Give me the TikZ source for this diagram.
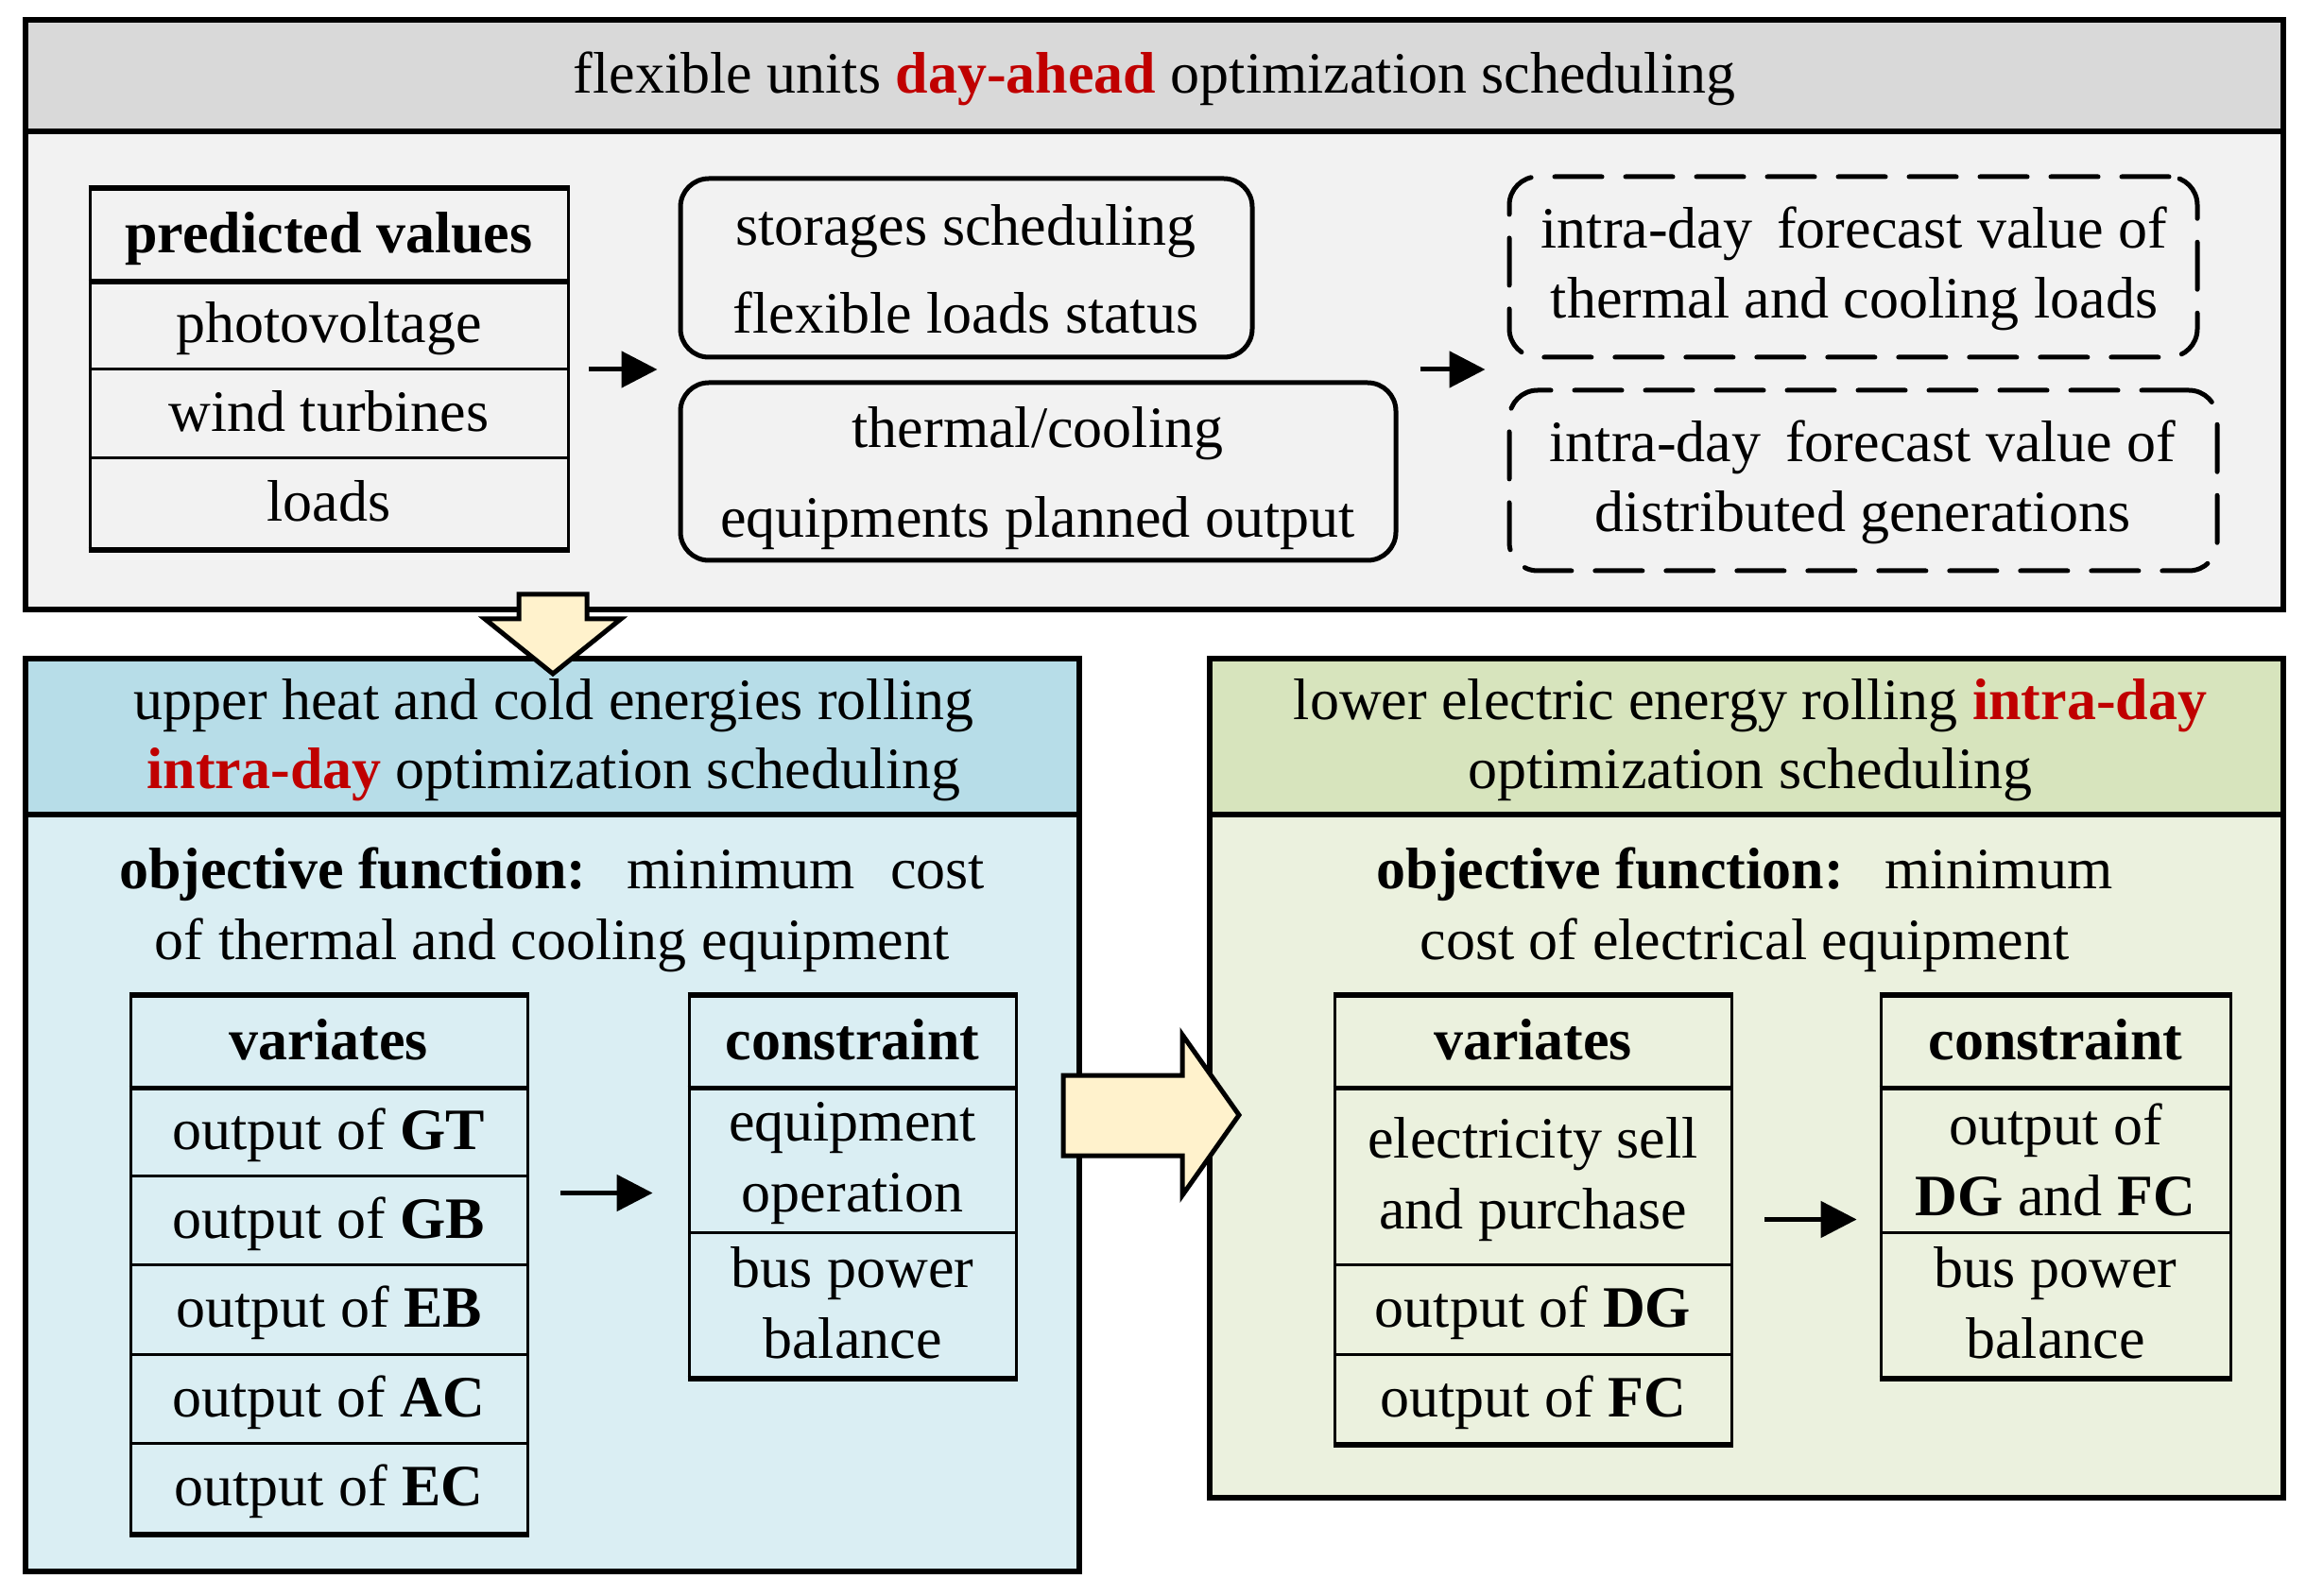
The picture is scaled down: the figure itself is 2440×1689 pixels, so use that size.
\documentclass[tikz,border=0pt]{standalone}
\usepackage{fontspec}
\setmainfont{Liberation Serif}
\usetikzlibrary{fit,arrows.meta}
\definecolor{grayhead}{HTML}{D9D9D9}
\definecolor{graybody}{HTML}{F2F2F2}
\definecolor{bluehead}{HTML}{B7DDE8}
\definecolor{bluebody}{HTML}{DAEEF3}
\definecolor{greenhead}{HTML}{D7E4BD}
\definecolor{greenbody}{HTML}{EBF1DE}
\definecolor{arrowfill}{HTML}{FFF2CC}
\definecolor{redc}{HTML}{C00000}
\newcommand\mkcell[4]{\node[cellb, fit={#2}] (#1) {}; \node[#3] (#1t) at (#1.center) {#4};}
\begin{document}
\begin{tikzpicture}[x=0.5pt,y=-0.5pt,
  panel/.style={draw, line width=3pt, inner sep=0pt},
  txt/.style={font=\fontsize{31}{37.5}\selectfont, align=center, inner sep=0pt},
  one/.style={txt, text height=25pt, text depth=6pt},
  cellb/.style={draw, line width=1.5pt, inner sep=0pt},
  rbox/.style={draw, line width=2.5pt, rounded corners=15pt, inner sep=0pt},
  dbox/.style={draw, line width=2.5pt, rounded corners=15pt, dash pattern=on 25pt off 12.5pt, line cap=round, inner sep=0pt},
  arr/.style={line width=2.5pt, -{Triangle[length=19pt,width=19pt]}},
  blk/.style={draw, line width=2.5pt, fill=arrowfill, line join=miter},
  thickl/.style={line width=3pt},
  medl/.style={line width=2.5pt}]
\useasboundingbox (0,0) rectangle (2440,1689);

% ---------- top panel ----------
\node[panel, fill=graybody, fit={(27,21)(2416,645)}] (top) {};
\node[panel, fill=grayhead, fit={(27,21)(2416,139)}] (tophead) {};
\node[one] (title) at (tophead.center)
  {flexible units \textcolor{redc}{\textbf{day-ahead}} optimization scheduling};

% predicted values table
\mkcell{pv0}{(95,201)(601,297)}{one}{\textbf{predicted values}}
\mkcell{pv1}{(95,297)(601,391)}{one}{photovoltage}
\mkcell{pv2}{(95,391)(601,485)}{one}{wind turbines}
\mkcell{pv3}{(95,485)(601,581)}{one}{loads}
\draw[thickl] (pv0.north west) -- (pv0.north east);
\draw[medl] (pv0.south west) -- (pv0.south east);
\draw[thickl] (pv3.south west) -- (pv3.south east);
\node[fit={(95,201)(601,581)}, inner sep=0pt] (pvtab) {};

% rounded boxes
\node[rbox, fit={(720,189)(1325,378)}] (stor) {};
\node[txt, font=\fontsize{31}{46.5}\selectfont] (stortxt) at (1022,285) {storages scheduling\\flexible loads status};
\node[rbox, fit={(720,405)(1477,593)}] (therm) {};
\node[txt, font=\fontsize{31}{47.5}\selectfont] (thermtxt) at (1098,506) {thermal/cooling\\equipments planned output};

% dashed boxes
\node[dbox, fit={(1597,187)(2325,378)}] (dash1) {};
\node[txt, font=\fontsize{31}{37}\selectfont] (dash1txt) at (1962,284) {intra-day\, forecast value of\\thermal and cooling loads};
\node[dbox, fit={(1597,413)(2346,604)}] (dash2) {};
\node[txt, font=\fontsize{31}{37}\selectfont] (dash2txt) at (1971,510) {intra-day\, forecast value of\\distributed generations};

\draw[arr, shorten <=11pt, shorten >=11pt] (pvtab.east) -- (pvtab.east -| stor.west);
\draw[arr, shorten <=11.5pt, shorten >=11.5pt] (pvtab.east -| therm.east) -- (pvtab.east -| dash1.west);

% ---------- lower left panel ----------
\node[panel, fill=bluebody, fit={(27,697)(1142,1663)}] (lbox) {};
\node[panel, fill=bluehead, fit={(27,697)(1142,862)}] (lhead) {};
\node[txt, font=\fontsize{31}{36.5}\selectfont] (lheadt) at (586,783)
  {upper heat and cold energies rolling\\\textcolor{redc}{\textbf{intra-day}} optimization scheduling};
\node[txt] (lobj) at (584,963) {\textbf{objective function:}\hspace{0.7em}minimum\hspace{0.6em}cost\\of thermal and cooling equipment};

\mkcell{lv0}{(138,1054)(558,1150)}{one}{\textbf{variates}}
\mkcell{lv1}{(138,1150)(558,1244)}{one}{output of \textbf{GT}}
\mkcell{lv2}{(138,1244)(558,1338)}{one}{output of \textbf{GB}}
\mkcell{lv3}{(138,1338)(558,1433)}{one}{output of \textbf{EB}}
\mkcell{lv4}{(138,1433)(558,1527)}{one}{output of \textbf{AC}}
\mkcell{lv5}{(138,1527)(558,1622)}{one}{output of \textbf{EC}}
\draw[thickl] (lv0.north west) -- (lv0.north east);
\draw[medl] (lv0.south west) -- (lv0.south east);
\draw[thickl] (lv5.south west) -- (lv5.south east);
\node[fit={(138,1054)(558,1622)}, inner sep=0pt] (lvtab) {};

\mkcell{lc0}{(729,1054)(1075,1150)}{one}{\textbf{constraint}}
\mkcell{lc1}{(729,1150)(1075,1304)}{txt, yshift=-2pt}{equipment\\operation}
\mkcell{lc2}{(729,1304)(1075,1457)}{txt, yshift=1pt}{bus power\\balance}
\draw[thickl] (lc0.north west) -- (lc0.north east);
\draw[medl] (lc0.south west) -- (lc0.south east);
\draw[thickl] (lc2.south west) -- (lc2.south east);
\node[fit={(729,1054)(1075,1457)}, inner sep=0pt] (lctab) {};

\draw[arr, shorten <=17.5pt, shorten >=19pt] ([yshift=-3.5pt]lvtab.east |- lctab.west) -- ([yshift=-3.5pt]lctab.west);

% ---------- lower right panel ----------
\node[panel, fill=greenbody, fit={(1280,697)(2416,1585)}] (rbox) {};
\node[panel, fill=greenhead, fit={(1280,697)(2416,862)}] (rhead) {};
\node[txt, font=\fontsize{31}{36.5}\selectfont] (rheadt) at (1852,783)
  {lower electric energy rolling \textcolor{redc}{\textbf{intra-day}}\\optimization scheduling};
\node[txt] (robj) at (1846,963) {\textbf{objective function:}\hspace{0.7em}minimum\\cost of electrical equipment};

\mkcell{rv0}{(1412,1054)(1832,1150)}{one}{\textbf{variates}}
\mkcell{rv1}{(1412,1150)(1832,1338)}{txt, yshift=-2pt}{electricity sell\\and purchase}
\mkcell{rv2}{(1412,1338)(1832,1433)}{one}{output of \textbf{DG}}
\mkcell{rv3}{(1412,1433)(1832,1527)}{one}{output of \textbf{FC}}
\draw[thickl] (rv0.north west) -- (rv0.north east);
\draw[medl] (rv0.south west) -- (rv0.south east);
\draw[thickl] (rv3.south west) -- (rv3.south east);
\node[fit={(1412,1054)(1832,1527)}, inner sep=0pt] (rvtab) {};

\mkcell{rc0}{(1990,1054)(2360,1150)}{one}{\textbf{constraint}}
\mkcell{rc1}{(1990,1150)(2360,1304)}{txt}{output of\\\textbf{DG} and \textbf{FC}}
\mkcell{rc2}{(1990,1304)(2360,1457)}{txt, yshift=1pt}{bus power\\balance}
\draw[thickl] (rc0.north west) -- (rc0.north east);
\draw[medl] (rc0.south west) -- (rc0.south east);
\draw[thickl] (rc2.south west) -- (rc2.south east);
\node[fit={(1990,1054)(2360,1457)}, inner sep=0pt] (rctab) {};

\draw[arr, shorten <=17.5pt, shorten >=12.5pt] (rvtab.east) -- (rvtab.east -| rctab.west);

% ---------- block arrows ----------
\draw[blk] (549,629) -- (621,629) -- (621,655) -- (657,655) -- (585,713) -- (513,655) -- (549,655) -- cycle;
\draw[blk] (1125,1138) -- (1251,1138) -- (1251,1095) -- (1311,1180) -- (1251,1265) -- (1251,1223) -- (1125,1223) -- cycle;
\end{tikzpicture}
\end{document}
